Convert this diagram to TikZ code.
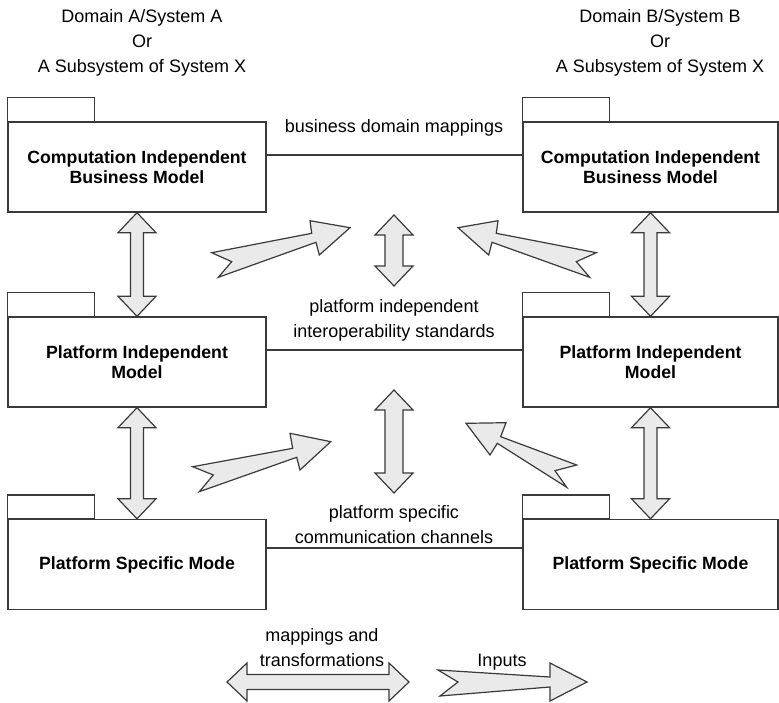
\documentclass[tikz,border=0pt]{standalone}
\usepackage{fontspec}
\setmainfont{Liberation Sans}
\usetikzlibrary{calc}
\definecolor{edge}{HTML}{3A3A3A}
\definecolor{arrowfill}{HTML}{EAEAEA}
\tikzset{
  pkg/.style={draw=edge, line width=1.4pt, fill=white, minimum height=90pt, inner sep=0pt, align=center, font=\fontsize{17.7}{20.5}\selectfont\bfseries},
  pkgtab/.style={draw=edge, line width=1.4pt},
  lbl/.style={align=center, font=\fontsize{18}{25}\selectfont, inner sep=0pt},
  fatarrow/.style={draw=edge, fill=arrowfill, line width=1.2pt, line join=miter},
  conn/.style={draw=edge, line width=1.4pt}
}
% vertical double arrow: top, bottom, shaft half width, head half width
\newcommand\vdarrow[4]{%
  \filldraw[fatarrow] (#1) -- ($(#1)+(#4,20)$) -- ($(#1)+(#3,20)$) -- ($(#2)+(#3,-20)$) -- ($(#2)+(#4,-20)$) -- (#2) -- ($(#2)+(-#4,-20)$) -- ($(#2)+(-#3,-20)$) -- ($(#1)+(-#3,20)$) -- ($(#1)+(-#4,20)$) -- cycle;}
\begin{document}
\begin{tikzpicture}[x=1pt,y=-1pt]
\useasboundingbox[fill=white] (0,0) rectangle (779,703);

% top labels
\node[lbl] (da) at (142,43) {Domain A/System A\\Or\\A Subsystem of System X};
\node[lbl] (db) at (660,43) {Domain B/System B\\Or\\A Subsystem of System X};

% packages
\node[pkg, minimum width=258pt] (l1) at (137,167) {Computation Independent\\Business Model};
\node[pkg, minimum width=255pt] (r1) at (650.5,167) {Computation Independent\\Business Model};
\node[pkg, minimum width=258pt] (l2) at (137,362) {Platform Independent\\Model};
\node[pkg, minimum width=255pt] (r2) at (650.5,362) {Platform Independent\\Model};
\node[pkg, minimum width=258pt] (l3) at (137,564.5) {Platform Specific Mode};
\node[pkg, minimum width=255pt] (r3) at (650.5,564.5) {Platform Specific Mode};
\foreach \b in {l1,r1,l2,r2,l3,r3}{
  \draw[pkgtab] (\b.north west) rectangle ++(87,-24);
}

% connectors
\coordinate (m1) at (394,155);
\coordinate (m2) at (394,350);
\coordinate (m3) at (394,548);
\draw[conn] (l1.east |- m1) -- (r1.west |- m1);
\draw[conn] (l2.east |- m2) -- (r2.west |- m2);
\draw[conn] (l3.east |- m3) -- (r3.west |- m3);

\node[lbl] (t1) at (394,128) {business domain mappings};
\node[lbl] (t2) at (394,320) {platform independent\\interoperability standards};
\node[lbl] (t3) at (394,525) {platform specific\\communication channels};

% vertical double arrows
\vdarrow{l1.south}{l2.north}{6.5}{19}
\vdarrow{l2.south}{l3.north}{6.5}{19}
\vdarrow{r1.south}{r2.north}{6.5}{19}
\vdarrow{r2.south}{r3.north}{6.5}{19}
\coordinate (c1t) at (394,215);
\coordinate (c1b) at (394,286);
\coordinate (c2t) at (394,390);
\coordinate (c2b) at (394,493);
\vdarrow{c1t}{c1b}{9}{19}
\vdarrow{c2t}{c2b}{9}{19}

% diagonal input arrows
\filldraw[fatarrow] (211.7,252.7) -- (311.7,233.3) -- (310,220.7) -- (350,227.7) -- (319.3,255) -- (316,242.3) -- (218.3,277.3) -- (231.7,261.7) -- cycle;
\filldraw[fatarrow] (596.3,252.7) -- (496.3,233.3) -- (498,220.7) -- (458,227.7) -- (488.7,255) -- (492,242.3) -- (589.7,277.3) -- (576.3,261.7) -- cycle;
\filldraw[fatarrow] (192.7,466.7) -- (292.7,448.3) -- (290,433.3) -- (330.7,441.7) -- (300,470) -- (296.7,457.3) -- (199.3,491.7) -- (213.3,475) -- cycle;
\filldraw[fatarrow] (466,423.3) -- (506,422.7) -- (500.7,436.7) -- (576.7,465) -- (555,470.7) -- (566.7,487.3) -- (497.3,443.3) -- (490,455) -- cycle;

% legend
\filldraw[fatarrow] (227,682) -- (247,663) -- (247,674.5) -- (389,674.5) -- (389,663) -- (409,682) -- (389,701) -- (389,689.5) -- (247,689.5) -- (247,701) -- cycle;
\node[lbl] (mt) at (322,648) {mappings and\\transformations};
\filldraw[fatarrow] (438,670) -- (550,677) -- (550,663) -- (587,682) -- (550,701) -- (550,687) -- (440,696) -- (458,682) -- cycle;
\node[lbl] (it) at (502,662) {Inputs};
\end{tikzpicture}
\end{document}
